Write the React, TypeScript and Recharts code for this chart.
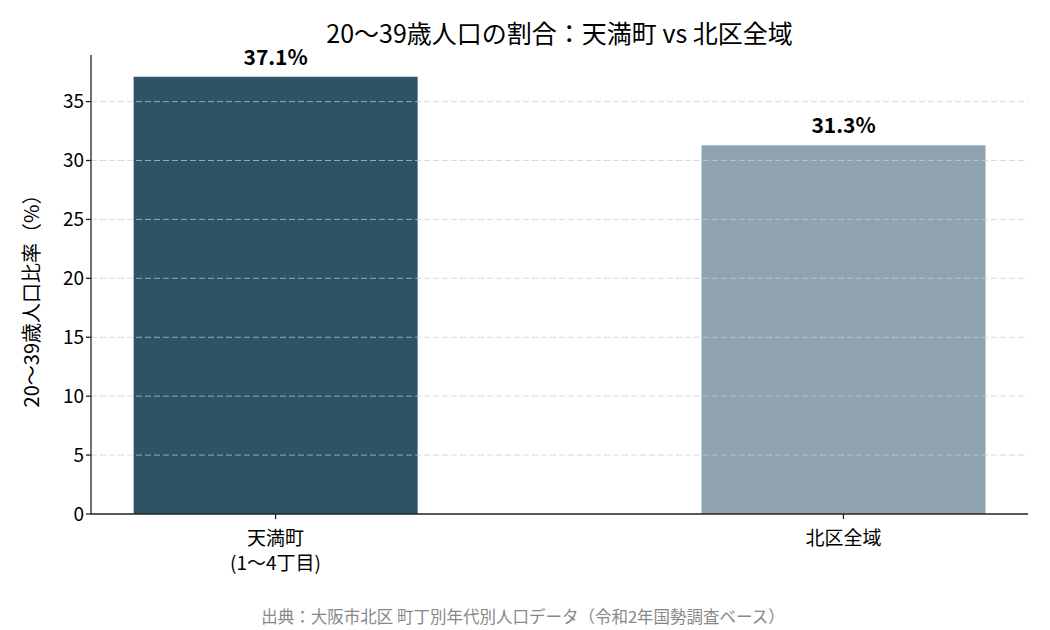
import React from 'react';
import { BarChart, Bar, XAxis, YAxis, Cell, LabelList, ReferenceLine } from 'recharts';

const categories = ['天満町\n(1〜4丁目)', '北区全域'];
const values = [37.1, 31.3];
const barColors = ['#2E5366', '#8FA4B0'];
const yTicks = [0, 5, 10, 15, 20, 25, 30, 35];
const gridTicks = [5, 10, 15, 20, 25, 30, 35];
const titleText = '20〜39歳人口の割合：天満町 vs 北区全域';
const yLabel = '20〜39歳人口比率（%）';
const sourceText = '出典：大阪市北区 町丁別年代別人口データ（令和2年国勢調査ベース）';

const data = categories.map((c, i) => ({ x: i, name: c, v: values[i] }));

const FONT = '"Noto Sans CJK JP", "Noto Sans", sans-serif';

const XTick = (props: any) => {
  const { x, y, payload } = props;
  const label = categories[payload.value] ?? '';
  const lines = label.split('\n');
  return (
    <g transform={`translate(${x},${y})`}>
      {lines.map((l: string, i: number) => (
        <text key={i} x={0} y={24 + i * 25} textAnchor="middle" fill="#000" fontSize={19} fontFamily={FONT}>
          {l}
        </text>
      ))}
    </g>
  );
};

export default function App() {
  return (
    <div style={{ position: 'absolute', left: 0, top: 0, width: 1050, height: 630, background: '#fff' }}>
      <BarChart
        width={1050}
        height={630}
        data={data}
        margin={{ top: 55, right: 22, bottom: 86, left: 31 }}
        barSize={284}
      >
        <text x={559.5} y={43} textAnchor="middle" fontSize={25} fontFamily={FONT} fill="#000">
          {titleText}
        </text>
        <text
          x={0}
          y={0}
          transform="translate(39,296) rotate(-90)"
          textAnchor="middle"
          fontSize={20}
          fontFamily={FONT}
          fill="#000"
        >
          {yLabel}
        </text>
        <XAxis
          type="number"
          dataKey="x"
          domain={[-0.325, 1.325]}
          ticks={[0, 1]}
          allowDataOverflow
          height={30}
          tick={<XTick />}
          tickSize={5}
          axisLine={{ stroke: '#222', strokeWidth: 1.3 }}
          tickLine={{ stroke: '#222', strokeWidth: 1.3 }}
        />
        <YAxis
          type="number"
          domain={[0, 38.955]}
          ticks={yTicks}
          allowDataOverflow
          width={60}
          tickSize={5}
          tick={{ fontSize: 19, fill: '#000', fontFamily: FONT }}
          axisLine={{ stroke: '#222', strokeWidth: 1.3 }}
          tickLine={{ stroke: '#222', strokeWidth: 1.3 }}
        />
        <Bar dataKey="v" isAnimationActive={false}>
          {data.map((d, i) => (
            <Cell key={i} fill={barColors[i]} />
          ))}
          <LabelList
            dataKey="v"
            position="top"
            offset={12}
            formatter={(v: any) => `${v}%`}
            style={{ fontSize: 21, fontWeight: 'bold', fill: '#000', fontFamily: FONT }}
          />
        </Bar>
        {gridTicks.map((t) => (
          <ReferenceLine key={t} y={t} stroke="#cccccc" strokeOpacity={0.7} strokeDasharray="6 3" strokeWidth={1} />
        ))}
        <text x={523} y={623} textAnchor="middle" fontSize={16.5} fontFamily={FONT} fill="#888">
          {sourceText}
        </text>
      </BarChart>
    </div>
  );
}
